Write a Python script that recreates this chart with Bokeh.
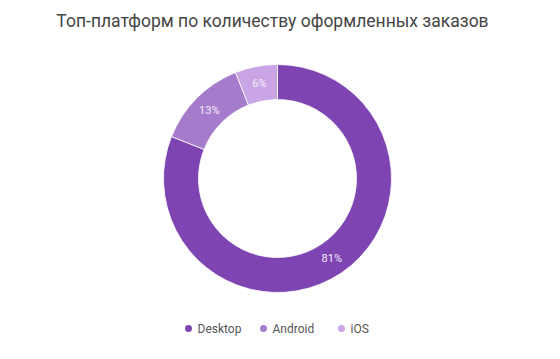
import math
from bokeh.plotting import figure
from bokeh.models import Range1d, ColumnDataSource
from bokeh.core.properties import value
from bokeh.embed import file_html
from bokeh.resources import INLINE

title = "Топ-платформ по количеству оформленных заказов"
platforms = ["Desktop", "Android", "iOS"]
shares = [81, 13, 6]
colors = ["#7d44b2", "#a57ccb", "#c9a5e6"]

W, H = 544, 343
cx, cy = 277.0, 165.0
r_out, r_in = 114.0, 79.0

total = float(sum(shares))
starts, ends, lx, ly, labels = [], [], [], [], []
cum = 0.0
for s in shares:
    a0 = math.pi / 2 - 2 * math.pi * cum / total
    a1 = math.pi / 2 - 2 * math.pi * (cum + s) / total
    starts.append(a0)
    ends.append(a1)
    mid = (a0 + a1) / 2
    rm = (r_out + r_in) / 2
    lx.append(cx + rm * math.cos(mid))
    ly.append(cy + rm * math.sin(mid))
    labels.append(f"{s}%")
    cum += s

p = figure(width=W, height=H, output_backend="svg", toolbar_location=None,
           x_range=Range1d(0, W), y_range=Range1d(0, H), min_border=0)
p.axis.visible = False
p.grid.visible = False
p.outline_line_color = None
p.background_fill_color = "white"

src = ColumnDataSource(dict(start=starts, end=ends, color=colors, name=platforms))
p.annular_wedge(x=cx, y=cy, inner_radius=r_in, outer_radius=r_out,
                start_angle="start", end_angle="end", direction="clock",
                fill_color="color", line_color="white", line_width=0.8, source=src)

p.text(x=lx, y=ly, text=labels, text_color="#f3ecfa", text_font=value("Roboto"),
       text_font_size="11px", text_align="center", text_baseline="middle")

# title
p.text(x=[W / 2], y=[H - 20], text=[title], text_color="#454545",
       text_font=value("Roboto"), text_font_size="17.5px",
       text_align="center", text_baseline="middle")

# legend
leg_y = 15
leg_x = [188, 263, 341]
p.scatter(x=leg_x, y=[leg_y] * 3, size=7, marker="circle", fill_color=colors, line_color=None)
p.text(x=[x + 9 for x in leg_x], y=[leg_y] * 3, text=platforms, text_color="#555555",
       text_font=value("Roboto"), text_font_size="12px",
       text_align="left", text_baseline="middle")

open("out.html", "w").write(file_html(p, INLINE))
